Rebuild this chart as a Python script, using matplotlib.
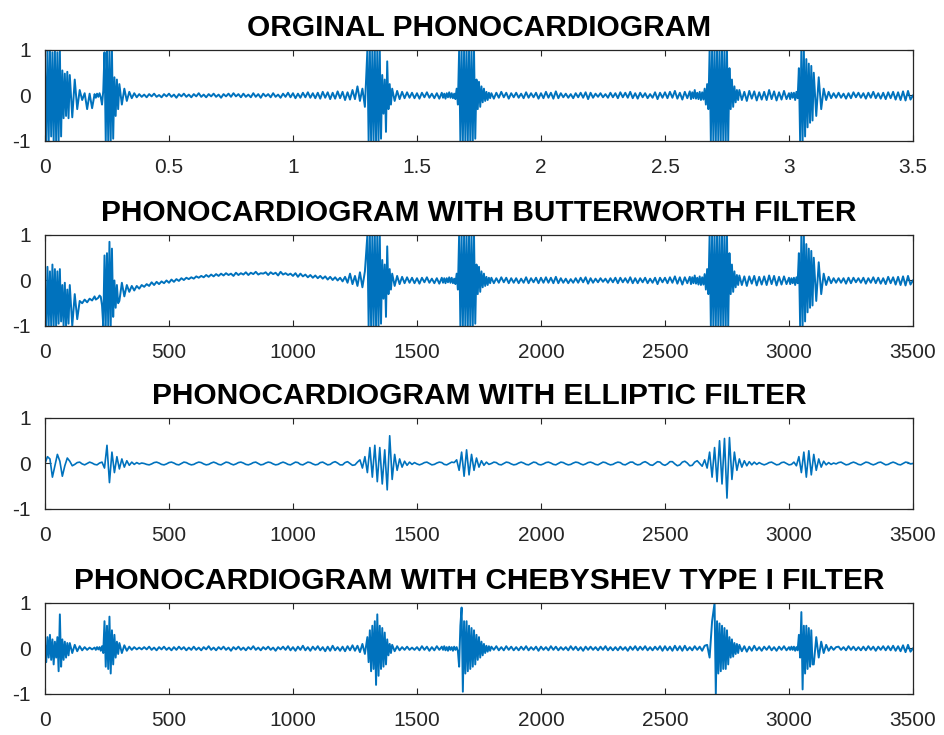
import numpy as np
import matplotlib
matplotlib.use("Agg")
import matplotlib.pyplot as plt

# ── Data (hundredths of full scale) ───────────────────────────────────────────
# one row = 100 samples; quiet rows hold 10 values (step 10), burst rows 20 (step 5)
ROW_SPAN = 100

ORIG_ROWS = [
    [60, -100, 100, -100, 100, -90, 95, -100, 100, -100, 95, -100, 100, -90, 55, -50, 48, -45, 52, -50],
    [45, -48, 35, -30, 12, -10, 5, -30, 4, -28],
    [3, -5, 4, -3, 5, -4, -20, 10, 95, -100, 100, -100, 100, -100, 100, -95, 40, -45, 35, -30],
    [25, -20, 15, -12, 8, -6, 5, -4, 3, -3],
    [2, -4, 3, -2, 4, -3, 1, -4, 3, -2],
    [4, -3, 2, -5, 3, -2, 4, -3, 2, -4],
    [3, -2, 5, -3, 2, -4, 3, -2, 4, -3],
    [2, -5, 3, -2, 4, -3, 5, -2, 3, -4],
    [4, -3, 2, -4, 5, -3, 3, -5, 4, -2],
    [3, -4, 5, -3, 2, -5, 4, -3, 6, -4],
    [5, -6, 4, -5, 6, -4, 7, -5, 5, -6],
    [6, -7, 8, -5, 7, -8, 6, -7, 9, -6],
    [8, -10, 7, -9, 12, -8, 20, -12, 15, -25],
    [100, -100, 100, -100, 100, -100, 100, -100, 100, -100, 100, -95, 45, -40, 35, -80, 75, -30, 25, -20],
    [15, -12, 10, -8, 8, -6, 7, -5, 6, -6],
    [5, -7, 6, -4, 7, -5, 4, -6, 5, -7],
    [6, -5, 4, -7, 5, -4, 7, -5, 5, -6, 4, -8, 15, -20, 100, -100, 100, -100, 100, -100],
    [100, -100, 100, -100, 100, -100, 100, -95, 35, -30, 30, -25, 20, -15, 15, -12, 8, -10, 6, -6],
    [5, -7, 6, -5, 8, -4, 6, -7, 5, -4],
    [6, -5, 4, -6, 7, -5, 5, -4, 6, -7],
    [5, -6, 8, -5, 6, -7, 9, -6, 5, -4],
    [4, -5, 3, -6, 5, -4, 6, -5, 7, -8],
    [6, -5, 4, -3, 5, -4, 3, -5, 6, -4],
    [5, -6, 7, -4, 6, -5, 8, -6, 5, -7],
    [6, -4, 5, -6, 3, -5, 7, -8, 6, -5],
    [7, -6, 8, -5, 10, -7, 6, -9, 8, -6],
    [9, -8, 7, -6, 12, -7, 6, -8, 8, -10, 7, -9, 15, -20, 25, -30, 100, -100, 100, -100],
    [100, -100, 100, -100, 100, -100, 100, -100, 100, -100, 100, -100, 60, -30, 35, -25, 20, -15, 12, -10],
    [12, -10, 8, -12, 10, -7, 9, -11, 7, -9],
    [8, -10, 12, -8, 9, -11, 7, -9, 10, -8],
    [5, -8, 6, -5, 6, -10, 8, -6, 60, -100, 100, -100, 100, -90, 80, -70, 70, -60, 65, -55],
    [50, -45, 40, -30, 15, -10, 8, -6, 5, -5],
    [6, -5, 4, -7, 5, -6, 7, -4, 6, -5],
    [5, -7, 6, -5, 8, -6, 5, -7, 6, -8],
    [7, -6, 8, -9, 7, -10, 9, -11, 10, -9],
]
ORIG_END = 0

BUTTER_ROWS = [
    [-20, -100, 30, -100, 20, -100, 35, -100, 25, -100, 20, -95, 25, -90, -10, -100, -5, -100, -20, -95],
    [-10, -100, -30, -85, -45, -50, -42, -48, -40, -44],
    [-35, -42, -40, -38, -33, -36, -55, -100, 55, -100, 60, -100, 85, -100, 70, -80, 0, -60, -10, -50],
    [-45, -5, -35, -10, -25, -12, -22, -12, -18, -10],
    [-14, -8, -12, -4, -10, -3, -8, -2, -6, 0],
    [-5, 2, -3, 3, -1, 5, 1, 6, 3, 7],
    [4, 9, 6, 10, 7, 12, 8, 13, 9, 14],
    [10, 15, 11, 16, 12, 15, 10, 17, 12, 16],
    [13, 18, 12, 17, 14, 19, 13, 16, 15, 18],
    [12, 18, 14, 17, 11, 19, 13, 16, 12, 15],
    [10, 16, 8, 15, 9, 13, 7, 12, 6, 11],
    [5, 10, 4, 9, 2, 8, 1, 7, 0, 6],
    [-2, 8, -5, 15, -8, 10, -12, 18, -15, 20],
    [100, -100, 100, -100, 100, -100, 100, -100, 100, -100, 100, -95, 45, -40, 35, -80, 75, -30, 25, -20],
    [15, -12, 10, -8, 8, -6, 7, -5, 6, -6],
    [5, -7, 6, -4, 7, -5, 4, -6, 5, -7],
    [6, -5, 5, -6, 5, -4, 7, -5, 6, -6, 4, -8, 15, -20, 100, -100, 100, -100, 100, -100],
    [100, -100, 100, -100, 100, -100, 100, -95, 35, -30, 30, -25, 20, -15, 15, -12, 8, -10, 6, -6],
    [6, -6, 5, -5, 7, -4, 6, -6, 5, -5],
    [5, -6, 4, -5, 7, -6, 5, -4, 6, -6],
    [6, -5, 7, -5, 6, -6, 8, -6, 5, -5],
    [4, -6, 3, -5, 5, -5, 6, -4, 7, -7],
    [5, -5, 4, -4, 5, -3, 4, -5, 5, -4],
    [6, -6, 6, -4, 5, -5, 7, -6, 5, -6],
    [5, -4, 6, -6, 4, -5, 6, -8, 6, -4],
    [6, -6, 7, -5, 9, -7, 7, -9, 7, -6],
    [8, -8, 7, -6, 11, -7, 6, -9, 9, -10, 7, -9, 14, -20, 25, -30, 100, -100, 100, -100],
    [100, -100, 100, -100, 100, -100, 100, -100, 100, -100, 100, -100, 60, -30, 35, -25, 20, -15, 12, -10],
    [11, -10, 9, -12, 9, -7, 10, -11, 8, -9],
    [9, -10, 11, -8, 10, -11, 8, -9, 9, -8],
    [6, -8, 5, -6, 6, -10, 7, -6, 60, -100, 100, -100, 100, -90, 80, -70, 70, -60, 65, -55],
    [50, -45, 40, -30, 15, -10, 8, -6, 5, -5],
    [5, -5, 5, -7, 6, -6, 6, -4, 5, -5],
    [6, -7, 5, -5, 7, -6, 6, -7, 5, -8],
    [8, -6, 7, -9, 8, -10, 9, -11, 10, -9],
]
BUTTER_END = 0

ELLIP_ROWS = [
    [0, 15, 10, -30, -5, 20, 5, -28, -5, 12],
    [5, -5, -2, 2, 3, -1, -3, 0, 3, 1],
    [-2, -3, 1, 3, -10, 40, -42, 25, -20, 15],
    [-12, 10, -8, 6, -4, 3, -2, 2, -1, 1],
    [0, -2, -3, -1, 2, 3, 1, -2, -3, -1],
    [2, 3, 1, -2, -3, 0, 3, 2, -1, -3],
    [-2, 1, 3, 2, -1, -3, -2, 1, 3, 1],
    [-2, -3, 0, 3, 2, -1, -3, -1, 2, 3],
    [1, -2, -3, -1, 2, 3, 0, -3, -2, 1],
    [3, 2, -1, -3, -2, 1, 3, 1, -2, -3],
    [0, 3, 2, -2, -3, 0, 3, 2, -1, -3],
    [-2, 2, 3, 0, -3, -2, 2, 4, 1, -3],
    [-3, 2, 4, 0, -4, -3, 3, 8, -10, 15],
    [-20, 35, -30, 40, -40, 35, -45, 30, -58, 61],
    [-35, 20, -15, 10, -8, 5, -4, 3, -2, 2],
    [-1, -3, -1, 2, 3, 0, -3, -2, 1, 3],
    [2, -2, -3, 0, 3, 2, 8, -15, 25, -28],
    [30, -25, 20, -15, 12, -8, 6, -4, 3, -2],
    [0, 3, 2, -2, -3, 0, 3, 2, -1, -3],
    [-2, 1, 3, 1, -2, -3, 0, 3, 2, -2],
    [-3, -1, 2, 3, 1, -2, -3, 0, 3, 2],
    [-1, -3, -2, 1, 3, 2, -1, -3, -1, 2],
    [3, 1, -2, -3, 0, 3, 2, -1, -3, -2],
    [1, 3, 2, -2, -3, 0, 3, 3, -1, -3],
    [-2, 2, 4, 1, -3, -4, 0, 4, 3, -2],
    [-4, -1, 4, 4, -1, -5, -3, 3, 5, 1],
    [-5, -4, 3, 6, 0, -6, 8, -10, 25, -30],
    [35, -40, 50, -45, 55, -76, 57, -35, 25, -15],
    [10, -8, 6, -5, 4, -3, 3, -2, 2, -1],
    [-3, -1, 2, 3, 0, -3, -2, 2, 3, 0],
    [-3, -2, 3, -5, 15, -20, 25, -30, 28, -25],
    [20, -15, 10, -8, 5, -3, 2, -2, 1, -1],
    [2, 3, 0, -3, -2, 1, 3, 1, -2, -3],
    [0, 3, 2, -1, -3, -1, 2, 3, 0, -3],
    [-2, 1, 3, 1, -2, -3, 0, 3, 2, -1],
]
ELLIP_END = 0

CHEBY_ROWS = [
    [10, -30, 25, -20, 30, -25, 20, -35, 15, -20, 25, -50, 75, -40, 20, -25, 15, -20, 12, -15],
    [12, -10, 8, -6, 5, -4, 3, -3, 2, -2],
    [2, -3, 3, -2, 3, -5, 5, -10, 60, -40, 50, -45, 70, -55, 40, -35, 30, -20, 15, -12],
    [12, -10, 7, -5, 4, -3, 3, -2, 2, -2],
    [3, -2, 4, -3, 2, -4, 3, -2, 4, -3],
    [2, -4, 3, -3, 4, -2, 3, -4, 2, -3],
    [4, -3, 2, -4, 3, -2, 5, -3, 2, -4],
    [3, -2, 4, -3, 2, -5, 3, -2, 4, -3],
    [2, -4, 3, -2, 5, -3, 2, -4, 3, -2],
    [4, -3, 2, -5, 3, -2, 4, -3, 5, -4],
    [3, -5, 4, -3, 6, -4, 3, -5, 4, -3],
    [5, -4, 3, -6, 4, -5, 6, -4, 3, -5],
    [4, -6, 5, -4, 7, -5, 6, -8, 10, -12],
    [25, -30, 40, -50, 50, -45, 60, -80, 75, -60, 50, -45, 45, -40, 35, -35, 20, -15, 10, -10],
    [8, -6, 5, -4, 3, -3, 4, -3, 2, -3],
    [3, -4, 5, -3, 4, -5, 3, -4, 5, -3],
    [4, -3, 5, -4, 3, -5, 4, -3, 3, -5, 4, -3, 3, -6, -40, 50, 90, -95, 60, -55],
    [60, -50, 50, -45, 45, -40, 40, -35, 30, -25, 25, -20, 15, -15, 10, -10, 6, -7, 5, -5],
    [4, -3, 5, -4, 3, -4, 5, -3, 4, -4],
    [3, -4, 4, -3, 5, -4, 3, -3, 4, -5],
    [4, -3, 3, -4, 5, -3, 4, -4, 3, -3],
    [3, -4, 5, -3, 4, -4, 3, -5, 4, -3],
    [4, -3, 3, -4, 4, -3, 5, -4, 3, -4],
    [3, -4, 4, -3, 3, -5, 4, -3, 5, -4],
    [4, -3, 5, -4, 3, -4, 4, -3, 5, -5],
    [5, -4, 4, -5, 6, -4, 5, -5, 6, -4],
    [3, -4, 5, -3, 4, -5, 6, 8, -20, 60],
    [100, -100, 60, -55, 55, -50, 50, -45, 45, -45, 40, -35, 25, -20, 20, -18, 12, -12, 10, -10],
    [8, -6, 5, -7, 4, -5, 6, -4, 3, -5],
    [4, -3, 5, -4, 3, -5, 4, -3, 5, -4],
    [3, -3, 4, -3, 4, -5, 3, -4, 30, -20, 80, -90, 50, -55, 50, -45, 45, -40, 40, -35],
    [-35, 25, -20, 15, -10, 8, -5, 4, -3, 3],
    [4, -3, 3, -4, 5, -3, 4, -4, 3, -4],
    [4, -4, 5, -3, 4, -5, 4, -3, 5, -4],
    [5, -4, 6, -5, 5, -6, 7, -8, 8, -7],
]
CHEBY_END = 0

TITLES = [
    "ORGINAL PHONOCARDIOGRAM",
    "PHONOCARDIOGRAM WITH BUTTERWORTH FILTER",
    "PHONOCARDIOGRAM WITH ELLIPTIC FILTER",
    "PHONOCARDIOGRAM WITH CHEBYSHEV TYPE I FILTER",
]
TIME_TICKS = [0, 0.5, 1, 1.5, 2, 2.5, 3, 3.5]
TIME_TICKLABELS = ["0", "0.5", "1", "1.5", "2", "2.5", "3", "3.5"]
SAMPLE_TICKS = [0, 500, 1000, 1500, 2000, 2500, 3000, 3500]
Y_TICKS = [-1, 0, 1]


def to_signal(rows, end):
    """Flatten the per-100-sample rows into (sample index, value) arrays."""
    xs, ys = [], []
    for k, row in enumerate(rows):
        n = len(row)
        xs.append(k * ROW_SPAN + np.arange(n) * ROW_SPAN / n)
        ys.append(np.asarray(row, dtype=float))
    xs.append([len(rows) * ROW_SPAN])
    ys.append([end])
    return np.concatenate(xs), np.concatenate(ys) / 100.0


# ── Plot ──────────────────────────────────────────────────────────────────────
plt.rcParams["font.family"] = ["Liberation Sans", "DejaVu Sans"]
plt.rcParams["axes.unicode_minus"] = False
LINE_COLOR = "#0072BD"
AX_COLOR = "#262626"

fig = plt.figure(figsize=(9.45, 7.35), dpi=100)
left, width, height = 0.0476, 0.9185, 0.1238
bottoms = [0.8082, 0.5565, 0.3075, 0.0558]
line_widths = [1.4, 1.4, 1.2, 1.4]

signals = [
    to_signal(ORIG_ROWS, ORIG_END),
    to_signal(BUTTER_ROWS, BUTTER_END),
    to_signal(ELLIP_ROWS, ELLIP_END),
    to_signal(CHEBY_ROWS, CHEBY_END),
]

for i, ((s, y), title, b) in enumerate(zip(signals, TITLES, bottoms)):
    ax = fig.add_axes([left, b, width, height])
    if i == 0:
        ax.plot(s / 1000.0, y, color=LINE_COLOR, lw=line_widths[i])
        ax.set_xlim(0, 3.5)
        ax.set_xticks(TIME_TICKS)
        ax.set_xticklabels(TIME_TICKLABELS)
    else:
        ax.plot(s, y, color=LINE_COLOR, lw=line_widths[i])
        ax.set_xlim(0, 3500)
        ax.set_xticks(SAMPLE_TICKS)
    ax.set_ylim(-1, 1)
    ax.set_yticks(Y_TICKS)
    ax.tick_params(direction="in", top=True, right=True, length=4,
                   width=0.8, color=AX_COLOR, labelcolor=AX_COLOR,
                   labelsize=15)
    ax.tick_params(axis="x", pad=12)
    ax.tick_params(axis="y", pad=10)
    for sp in ax.spines.values():
        sp.set_color(AX_COLOR)
        sp.set_linewidth(0.9)
    ax.set_title(title, fontsize=21.5, fontweight="bold", color="black", pad=10)

plt.savefig("out.png", dpi=100)
